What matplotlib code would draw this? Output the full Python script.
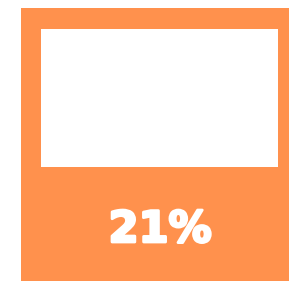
import matplotlib
matplotlib.use("Agg")
import matplotlib.pyplot as plt
import matplotlib.patheffects as pe
from matplotlib.patches import Rectangle

# value shown on the card
value = 21
label = f"{value}%"

orange = "#FF914D"

fig = plt.figure(figsize=(2.89, 2.81), dpi=100)
ax = fig.add_axes([0, 0, 1, 1])
ax.set_xlim(0, 289)
ax.set_ylim(281, 0)
ax.axis("off")

# orange card
ax.add_patch(Rectangle((21, 8), 268, 273, facecolor=orange, edgecolor="none"))
# white panel inside
ax.add_patch(Rectangle((41, 29), 237, 137.5, facecolor="white", edgecolor="none"))

# extra stroke to get the heavy look of the original lettering
ax.text(160, 230, label, color="white", fontsize=31, fontweight="bold",
        family="DejaVu Sans", ha="center", va="center",
        path_effects=[pe.withStroke(linewidth=2, foreground="white")])

fig.savefig("out.png", dpi=100)
